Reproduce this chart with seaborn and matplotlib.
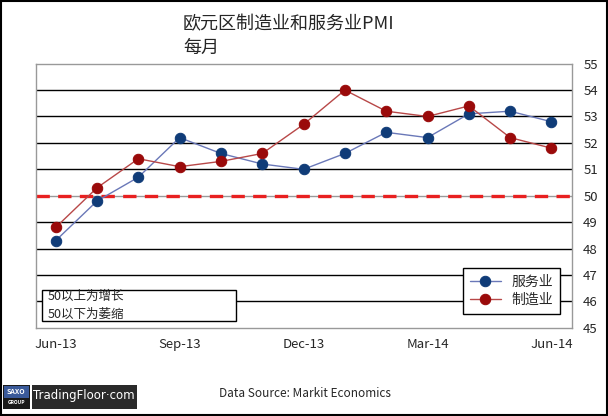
import pandas as pd
import matplotlib
matplotlib.use("Agg")
import matplotlib.pyplot as plt
import matplotlib.patches as patches
import seaborn as sns

# data
months = ["Jun-13", "Jul-13", "Aug-13", "Sep-13", "Oct-13", "Nov-13", "Dec-13",
          "Jan-14", "Feb-14", "Mar-14", "Apr-14", "May-14", "Jun-14"]
services = [48.3, 49.8, 50.7, 52.2, 51.6, 51.2, 51.0, 51.6, 52.4, 52.2, 53.1, 53.2, 52.8]
manufacturing = [48.8, 50.3, 51.4, 51.1, 51.3, 51.6, 52.7, 54.0, 53.2, 53.0, 53.4, 52.2, 51.8]
tick_labels = ["Jun-13", "Sep-13", "Dec-13", "Mar-14", "Jun-14"]

df = pd.DataFrame({
    "idx": list(range(len(months))) * 2,
    "value": services + manufacturing,
    "series": ["服务业"] * len(months) + ["制造业"] * len(months),
})

sns.set_style("white")
plt.rcParams["font.family"] = ["Noto Sans CJK SC", "DejaVu Sans"]

fig = plt.figure(figsize=(6.08, 4.16), dpi=100)
ax = fig.add_axes([0.059, 0.212, 0.882, 0.635])

# horizontal grid lines
for v in range(46, 55):
    if v != 50:
        ax.axhline(v, color="black", lw=1.0, zorder=1)
ax.axhline(50, color="#999999", lw=1.0, zorder=1)
ax.axhline(50, color="#e82020", lw=2.4, ls=(0, (4, 2.5)), zorder=2)

line_colors = {"服务业": "#6a78b8", "制造业": "#b84848"}
marker_colors = {"服务业": "#103c78", "制造业": "#9a0a0a"}
for name in ["服务业", "制造业"]:
    sub = df[df["series"] == name]
    sns.lineplot(data=sub, x="idx", y="value", ax=ax, color=line_colors[name],
                 lw=1.0, marker="o", markersize=7.5, markerfacecolor=marker_colors[name],
                 markeredgecolor=marker_colors[name], label=name, zorder=3)

ax.set_xlim(-0.48, 12.5)
ax.set_ylim(45, 55)
ax.set_xticks([0, 3, 6, 9, 12])
ax.set_xticklabels(tick_labels, fontsize=9.5)
ax.set_yticks(range(45, 56))
ax.yaxis.tick_right()
ax.tick_params(axis="y", labelsize=9.5, length=0, pad=8)
ax.tick_params(axis="x", length=0, pad=7)
ax.set_xlabel("")
ax.set_ylabel("")
for s in ax.spines.values():
    s.set_color("#999999")
    s.set_linewidth(1.0)

leg = ax.legend(loc="lower right", bbox_to_anchor=(0.991, 0.027), fontsize=10,
                frameon=True, fancybox=False, edgecolor="black", framealpha=1,
                handlelength=2.2, borderpad=0.5, labelspacing=0.3)
leg.get_frame().set_linewidth(1.0)

# note box
ax.add_patch(patches.Rectangle((0.011, 0.027), 0.362, 0.117, transform=ax.transAxes,
                               facecolor="white", edgecolor="black", lw=1.0, zorder=4))
ax.text(0.022, 0.085, "50以上为增长\n50以下为萎缩", transform=ax.transAxes,
        fontsize=9, va="center", ha="left", linespacing=1.45, zorder=5)

# title
fig.text(0.301, 0.943, "欧元区制造业和服务业PMI", fontsize=13, ha="left", va="center")
fig.text(0.301, 0.886, "每月", fontsize=13, ha="left", va="center")

# footer
fig.text(0.502, 0.053, "Data Source: Markit Economics", fontsize=8.5, ha="center", va="center")
W, H = 608, 416
fig.patches.append(patches.Rectangle((3 / W, 1 - 409 / H), 27 / W, 24 / H, transform=fig.transFigure,
                                     facecolor="#1a1a1a", edgecolor="none"))
fig.patches.append(patches.Rectangle((4 / W, 1 - 398 / H), 25 / W, 12 / H, transform=fig.transFigure,
                                     facecolor="#3a5a9a", edgecolor="none"))
fig.text(16.5 / W, 1 - 392 / H, "SAXO", fontsize=5, color="white", ha="center", va="center",
         fontweight="bold")
fig.text(16.5 / W, 1 - 403 / H, "GROUP", fontsize=3.5, color="white", ha="center", va="center",
         fontweight="bold")
fig.patches.append(patches.Rectangle((32 / W, 1 - 409 / H), 105 / W, 24 / H, transform=fig.transFigure,
                                     facecolor="#2a2a2a", edgecolor="none"))
fig.text(84 / W, 1 - 396 / H, "TradingFloor·com", fontsize=8.5, color="white", ha="center",
         va="center", family="DejaVu Sans")

# outer border
fig.patches.append(patches.Rectangle((0.001, 0.002), 0.997, 0.996, transform=fig.transFigure,
                                     fill=False, edgecolor="black", lw=1.5))

fig.savefig("out.png", dpi=100)
